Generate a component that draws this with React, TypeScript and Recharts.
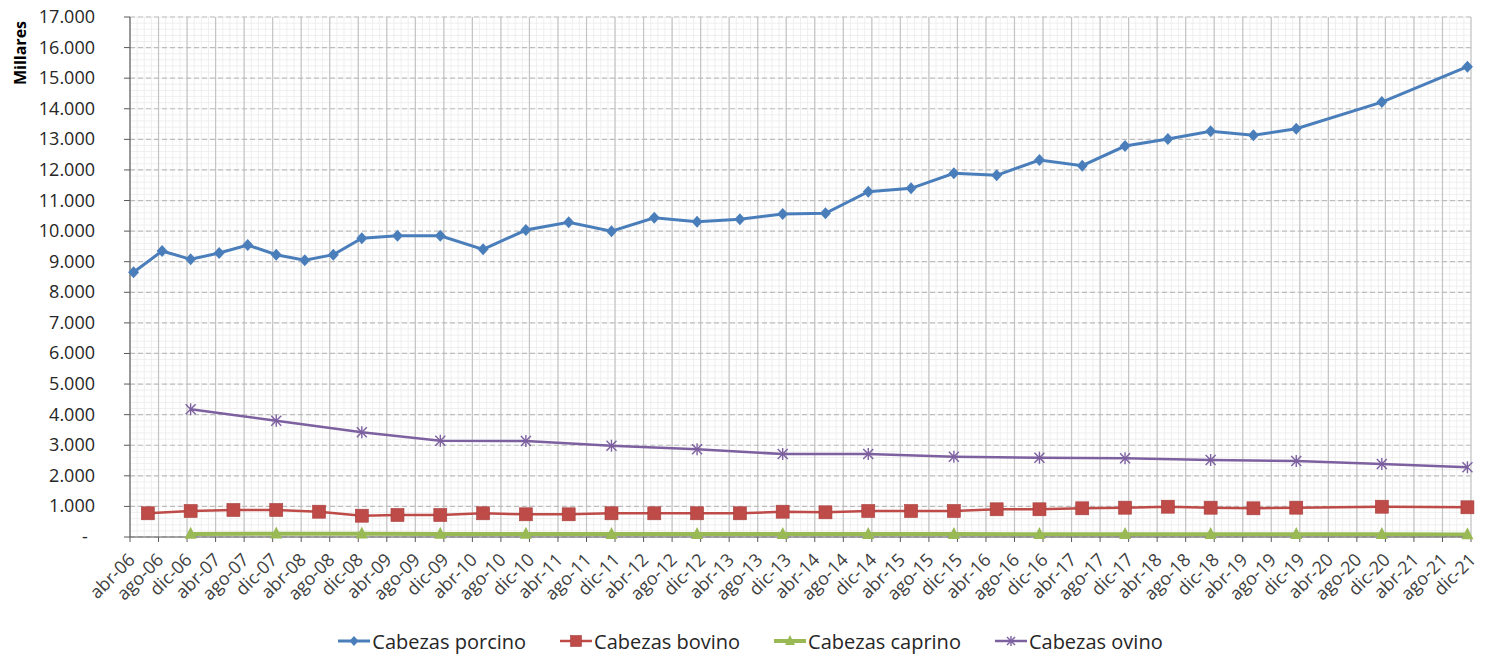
import { CartesianGrid, Legend, Line, LineChart, XAxis, YAxis } from "recharts";

const MESES = ["ene", "feb", "mar", "abr", "may", "jun", "jul", "ago", "sep", "oct", "nov", "dic"];

// fechas de cada serie (mes-aa) y valores en miles de cabezas
const porcinoFechas = [
  "abr-06", "ago-06", "dic-06", "abr-07", "ago-07", "dic-07", "abr-08", "ago-08", "dic-08",
  "may-09", "nov-09", "may-10", "nov-10", "may-11", "nov-11", "may-12", "nov-12", "may-13",
  "nov-13", "may-14", "nov-14", "may-15", "nov-15", "may-16", "nov-16", "may-17", "nov-17",
  "may-18", "nov-18", "may-19", "nov-19", "nov-20", "nov-21",
];
const porcinoValores = [
  8653, 9350, 9078, 9284, 9546, 9229, 9045, 9229, 9765,
  9850, 9850, 9405, 10036, 10288, 9994, 10438, 10307, 10386,
  10559, 10582, 11288, 11399, 11890, 11825, 12324, 12138, 12782,
  13011, 13263, 13132, 13348, 14218, 15374,
];

const bovinoFechas = [
  "jun-06", "dic-06", "jun-07", "dic-07", "jun-08", "dic-08",
  "may-09", "nov-09", "may-10", "nov-10", "may-11", "nov-11", "may-12", "nov-12", "may-13",
  "nov-13", "may-14", "nov-14", "may-15", "nov-15", "may-16", "nov-16", "may-17", "nov-17",
  "may-18", "nov-18", "may-19", "nov-19", "nov-20", "nov-21",
];
const bovinoValores = [
  775, 850, 883, 883, 827, 696,
  720, 719, 775, 742, 742, 775, 775, 775, 775,
  827, 807, 850, 850, 850, 906, 906, 938, 958,
  990, 958, 938, 958, 990, 971,
];

const ovinoCaprinoFechas = [
  "dic-06", "dic-07", "dic-08", "nov-09", "nov-10", "nov-11", "nov-12", "nov-13",
  "nov-14", "nov-15", "nov-16", "nov-17", "nov-18", "nov-19", "nov-20", "nov-21",
];
const caprinoValores = [100, 110, 105, 100, 100, 95, 95, 95, 95, 95, 92, 92, 90, 90, 90, 85];
const ovinoValores = [
  4175, 3802, 3423, 3148, 3138, 2985, 2867, 2713,
  2713, 2625, 2592, 2573, 2517, 2484, 2386, 2279,
];

const tickAnios = Array.from({ length: 16 }, (_, i) => String(6 + i).padStart(2, "0"));
const tickMeses = ["abr", "ago", "dic"];
const tickEtiquetas = tickAnios.flatMap((a) => tickMeses.map((m) => `${m}-${a}`));

const yTicks = Array.from({ length: 18 }, (_, i) => i * 1000);

// month index since ene-06 (start of month)
const mesIndice = (f: string) => {
  const [m, a] = f.split("-");
  return (Number(a) - 6) * 12 + MESES.indexOf(m);
};

const serie = (fechas: string[], valores: number[]) =>
  fechas.map((f, i) => ({ x: mesIndice(f) + 0.5, y: valores[i] }));

const xTicks = tickEtiquetas.map(mesIndice);
const etiquetaPorTick: Record<number, string> = {};
tickEtiquetas.forEach((e) => (etiquetaPorTick[mesIndice(e)] = e));

const minorX = Array.from({ length: 189 }, (_, i) => 3 + i);
const minorY = Array.from({ length: 86 }, (_, i) => i * 200);

const FONT = "'Open Sans', sans-serif";
const AZUL = "#4A7EBB";
const ROJO = "#BE4B48";
const VERDE = "#98B954";
const MORADO = "#7D60A0";

const fmt = (v: number) => String(v).replace(/\B(?=(\d{3})+(?!\d))/g, ".");

const Diamond = ({ cx, cy, s = 5.5, color }: any) =>
  cx == null ? null : (
    <path d={`M${cx},${cy - s - 0.5}L${cx + s},${cy}L${cx},${cy + s + 0.5}L${cx - s},${cy}Z`} fill={color} />
  );

const Square = ({ cx, cy, s = 13, color }: any) =>
  cx == null ? null : (
    <rect x={cx - s / 2} y={cy - s / 2} width={s} height={s} fill={color} stroke="#a8403d" strokeWidth={0.6} />
  );

const Triangle = ({ cx, cy, s = 12, color }: any) =>
  cx == null ? null : (
    <path d={`M${cx},${cy - s * 0.6}L${cx + s / 2},${cy + s * 0.4}L${cx - s / 2},${cy + s * 0.4}Z`} fill={color} />
  );

const Star = ({ cx, cy, s = 5, color }: any) =>
  cx == null ? null : (
    <g stroke={color} strokeWidth={1.4}>
      <line x1={cx - s} y1={cy - s} x2={cx + s} y2={cy + s} />
      <line x1={cx - s} y1={cy + s} x2={cx + s} y2={cy - s} />
      <line x1={cx} y1={cy - s - 1} x2={cx} y2={cy + s + 1} />
    </g>
  );

const series = [
  { name: "Cabezas porcino", color: AZUL, width: 3, data: serie(porcinoFechas, porcinoValores), Marker: Diamond, legendSize: 4.5 },
  { name: "Cabezas bovino", color: ROJO, width: 2.5, data: serie(bovinoFechas, bovinoValores), Marker: Square, legendSize: 11 },
  { name: "Cabezas caprino", color: VERDE, width: 4, data: serie(ovinoCaprinoFechas, caprinoValores), Marker: Triangle, legendSize: 10 },
  { name: "Cabezas ovino", color: MORADO, width: 2.5, data: serie(ovinoCaprinoFechas, ovinoValores), Marker: Star, legendSize: 4 },
];

const XTick = ({ x, y, payload }: any) => {
  const tx = x + 6;
  const ty = y + 17;
  return (
    <text
      x={tx}
      y={ty}
      transform={`rotate(-45, ${tx}, ${ty})`}
      textAnchor="end"
      fontFamily={FONT}
      fontSize={18}
      fill="#404040"
    >
      {etiquetaPorTick[payload.value]}
    </text>
  );
};

const YTick = ({ x, y, payload }: any) => {
  const v = payload.value;
  if (v === 0) {
    return (
      <text x={x - 37} y={y} dy={6} textAnchor="middle" fontFamily={FONT} fontSize={18} fill="#262626">
        -
      </text>
    );
  }
  return (
    <text x={x - 27} y={y} dy={6} textAnchor="end" fontFamily={FONT} fontSize={18} fill="#262626">
      {fmt(v)}
    </text>
  );
};

const LegendContent = () => (
  <div
    style={{
      display: "flex",
      justifyContent: "center",
      alignItems: "center",
      gap: 34,
      paddingLeft: 30,
      height: 30,
      fontFamily: FONT,
      fontSize: 20,
      color: "#262626",
    }}
  >
    {series.map((s) => (
      <div key={s.name} style={{ display: "flex", alignItems: "center" }}>
        <svg width={32} height={16}>
          <line x1={0} y1={8} x2={32} y2={8} stroke={s.color} strokeWidth={s.width} />
          <s.Marker cx={16} cy={8} s={s.legendSize} color={s.color} />
        </svg>
        <span style={{ marginLeft: 2 }}>{s.name}</span>
      </div>
    ))}
  </div>
);

export default function App() {
  return (
    <div style={{ position: "absolute", left: 0, top: 0, background: "#fff" }}>
      <LineChart width={1486} height={658} margin={{ top: 17, right: 15, left: 0, bottom: 2 }}>
        <CartesianGrid verticalValues={minorX} horizontalValues={minorY} stroke="#ebebeb" strokeWidth={0.8} />
        <CartesianGrid horizontal={false} stroke="#c4c4c4" strokeWidth={1.2} />
        <CartesianGrid vertical={false} stroke="#bdbdbd" strokeWidth={1.2} strokeDasharray="5 3" />
        <XAxis
          type="number"
          dataKey="x"
          domain={[3, 191]}
          ticks={xTicks}
          interval={0}
          tick={<XTick />}
          tickSize={5}
          height={89}
          stroke="#595959"
          allowDuplicatedCategory={false}
        />
        <YAxis
          type="number"
          dataKey="y"
          domain={[0, 17000]}
          ticks={yTicks}
          interval={0}
          tick={<YTick />}
          tickSize={6}
          width={130}
          stroke="#595959"
          label={() => (
            <text
              transform="translate(26, 53) rotate(-90)"
              textAnchor="middle"
              fontFamily={FONT}
              fontSize={16}
              fontWeight="bold"
              fill="#000"
            >
              Millares
            </text>
          )}
        />
        <Legend verticalAlign="bottom" content={<LegendContent />} />
        {series.map((s) => (
          <Line
            key={s.name}
            data={s.data}
            dataKey="y"
            name={s.name}
            type="linear"
            stroke={s.color}
            strokeWidth={s.width}
            dot={(p: any) => <s.Marker key={p.index} cx={p.cx} cy={p.cy} color={s.color} />}
            activeDot={false}
            isAnimationActive={false}
          />
        ))}
      </LineChart>
    </div>
  );
}
